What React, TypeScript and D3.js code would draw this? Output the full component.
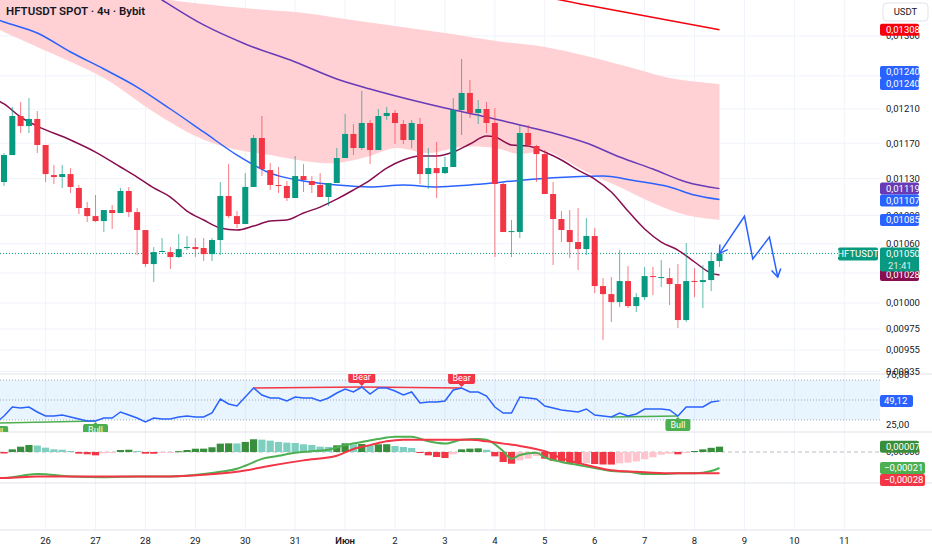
import React from 'react';
import * as d3 from 'd3';

const W = 932;
const H = 550;
const PLOT_R = 880;

// candle i opens at 25 May 04:00 + 4h * i (4h chart)
const START = new Date(2025, 4, 25, 4);

const OPEN = [
  0.011263, 0.011565, 0.012017, 0.011899, 0.011982, 0.011680, 0.011340, 0.011318, 0.011351, 0.011197,
  0.010979, 0.010892, 0.010839, 0.010957, 0.010925, 0.011164, 0.010935, 0.010744, 0.010391, 0.010514,
  0.010514, 0.010463, 0.010556, 0.010566, 0.010556, 0.010493, 0.010639, 0.011109, 0.010892, 0.010808,
  0.011208, 0.011760, 0.011396, 0.011230, 0.011219, 0.011087, 0.011329, 0.011274, 0.011230, 0.011098,
  0.011252, 0.011531, 0.011807, 0.011645, 0.011935, 0.011622, 0.012017, 0.012053, 0.011923, 0.011737,
  0.011923, 0.011351, 0.011418, 0.011362, 0.011430, 0.012088, 0.012292, 0.012053, 0.012100, 0.011935,
  0.011241, 0.010723, 0.010723, 0.011818, 0.011668, 0.011576, 0.011131, 0.010861, 0.010744, 0.010618,
  0.010545, 0.010681, 0.010169, 0.010089, 0.010010, 0.010219, 0.009971, 0.010059, 0.010269, 0.010249,
  0.010249, 0.010189, 0.009835, 0.010219, 0.010209, 0.010229, 0.010422,
];
const HIGH = [
  0.011588, 0.012124, 0.012183, 0.012231, 0.012076, 0.011680, 0.011452, 0.011452, 0.011418, 0.011230,
  0.011043, 0.011120, 0.010957, 0.011011, 0.011197, 0.011208, 0.010979, 0.010744, 0.010566, 0.010660,
  0.010566, 0.010702, 0.010681, 0.010660, 0.010660, 0.010660, 0.011263, 0.011463, 0.010946, 0.011362,
  0.011795, 0.012017, 0.011475, 0.011430, 0.011274, 0.011554, 0.011463, 0.011329, 0.011362, 0.011252,
  0.011645, 0.012041, 0.011923, 0.012316, 0.011970, 0.012100, 0.012124, 0.012088, 0.011970, 0.011970,
  0.011994, 0.011645, 0.011714, 0.011543, 0.012231, 0.012709, 0.012450, 0.012207, 0.012183, 0.012112,
  0.011252, 0.010850, 0.011911, 0.011911, 0.011680, 0.011622, 0.011263, 0.010946, 0.010957, 0.010979,
  0.010871, 0.010765, 0.010249, 0.010259, 0.010535, 0.010371, 0.010099, 0.010361, 0.010361, 0.010432,
  0.010350, 0.010391, 0.010608, 0.010350, 0.010381, 0.010514, 0.010545,
];
const LOW = [
  0.011219, 0.011565, 0.011818, 0.011818, 0.011588, 0.011263, 0.011241, 0.011197, 0.011142, 0.010914,
  0.010829, 0.010829, 0.010723, 0.010755, 0.010925, 0.010882, 0.010483, 0.010361, 0.010209, 0.010514,
  0.010340, 0.010452, 0.010535, 0.010463, 0.010422, 0.010422, 0.010483, 0.010871, 0.010765, 0.010808,
  0.011208, 0.011329, 0.011175, 0.011142, 0.011054, 0.011087, 0.011153, 0.011142, 0.011098, 0.011000,
  0.011252, 0.011531, 0.011565, 0.011622, 0.011463, 0.011622, 0.011970, 0.011691, 0.011691, 0.011645,
  0.011241, 0.011186, 0.011087, 0.011351, 0.011430, 0.011795, 0.011994, 0.011923, 0.011818, 0.010463,
  0.010723, 0.010463, 0.010660, 0.011657, 0.011263, 0.011131, 0.010381, 0.010618, 0.010452, 0.010330,
  0.010483, 0.010099, 0.009643, 0.009816, 0.009961, 0.009952, 0.009912, 0.010030, 0.010079, 0.010159,
  0.009981, 0.009758, 0.009816, 0.010059, 0.009952, 0.010119, 0.010361,
];
const CLOSE = [
  0.011565, 0.012017, 0.011899, 0.011982, 0.011680, 0.011351, 0.011318, 0.011351, 0.011208, 0.010979,
  0.010892, 0.010839, 0.010957, 0.010925, 0.011164, 0.010935, 0.010744, 0.010391, 0.010514, 0.010525,
  0.010463, 0.010545, 0.010566, 0.010545, 0.010493, 0.010639, 0.011109, 0.010892, 0.010808, 0.011208,
  0.011760, 0.011407, 0.011230, 0.011219, 0.011087, 0.011329, 0.011285, 0.011230, 0.011098, 0.011252,
  0.011531, 0.011807, 0.011645, 0.011935, 0.011622, 0.012017, 0.012053, 0.011935, 0.011737, 0.011935,
  0.011351, 0.011418, 0.011362, 0.011430, 0.012088, 0.012292, 0.012053, 0.012100, 0.011935, 0.011241,
  0.010723, 0.010733, 0.011818, 0.011680, 0.011576, 0.011131, 0.010861, 0.010744, 0.010618, 0.010545,
  0.010681, 0.010169, 0.010089, 0.010010, 0.010219, 0.009971, 0.010059, 0.010269, 0.010259, 0.010259,
  0.010189, 0.009835, 0.010219, 0.010209, 0.010229, 0.010422, 0.010500,
];

// overlays, [candle index, price]
const EMA_FAST: [number, number][] = [
  [-1, 0.012219], [0, 0.01216], [2, 0.012005], [4, 0.011899], [8, 0.011737], [11, 0.011599], [14, 0.01143],
  [16, 0.011318], [18, 0.011197], [20, 0.011098], [22, 0.010946], [24, 0.01085], [26, 0.010765], [28, 0.010744],
  [30, 0.010786], [32, 0.010839], [34, 0.01085], [36, 0.010925], [38, 0.010989], [40, 0.011076], [42, 0.011175],
  [44, 0.011285], [46, 0.011418], [48, 0.011509], [50, 0.011554], [52, 0.011554], [54, 0.011599], [56, 0.011691],
  [58, 0.011783], [59, 0.011772], [61, 0.01168], [63, 0.011668], [65, 0.011599], [67, 0.011509], [69, 0.011396],
  [71, 0.011296], [73, 0.011153], [75, 0.010946], [77, 0.010755], [79, 0.010618], [81, 0.010535], [83, 0.010412],
  [85, 0.010299], [86, 0.01028],
];
const EMA_MID: [number, number][] = [
  [-1, 0.013219], [0, 0.01318], [4, 0.013038], [8, 0.012797], [12, 0.012585], [16, 0.012364], [20, 0.0121],
  [24, 0.01183], [28, 0.011565], [32, 0.011362], [36, 0.011274], [40, 0.01123], [44, 0.011208], [48, 0.01123],
  [52, 0.011208], [56, 0.01123], [60, 0.011263], [64, 0.011296], [68, 0.011318], [72, 0.011329], [76, 0.011274],
  [80, 0.011208], [83, 0.01112], [86, 0.01107],
];
const EMA_SLOW: [number, number][] = [
  [-1, 0.014918], [0, 0.014858], [10, 0.014118], [19, 0.013467], [24, 0.013141], [29, 0.012898], [35, 0.012672],
  [40, 0.012462], [44, 0.01234], [49, 0.012207], [53, 0.012112], [58, 0.012005], [62, 0.011911], [66, 0.011818],
  [70, 0.011703], [74, 0.011543], [78, 0.011407], [82, 0.011263], [86, 0.01119],
];
const MA_LONG: [number, number][] = [[50, 0.0138], [55, 0.01372], [70, 0.0134], [86, 0.01308]];
const CLOUD_TOP: [number, number][] = [
  [-1, 0.01386], [0, 0.013843], [10, 0.013654], [20, 0.013467], [30, 0.013349], [36, 0.013297], [41, 0.013219],
  [47, 0.013128], [53, 0.013038], [60, 0.012923], [65, 0.01286], [70, 0.012747], [76, 0.012585], [80, 0.012474],
  [86, 0.0124],
];
const CLOUD_BOTTOM: [number, number][] = [
  [-1, 0.013102], [0, 0.013051], [4, 0.01286], [12, 0.012474], [18, 0.012064], [23, 0.011783], [27, 0.011645],
  [32, 0.011565], [37, 0.011486], [40, 0.011475], [44, 0.011554], [47, 0.011645], [51, 0.011588], [55, 0.011657],
  [59, 0.011645], [62, 0.011576], [65, 0.011611], [67, 0.011531], [70, 0.011374], [74, 0.011208], [78, 0.011033],
  [82, 0.010903], [86, 0.01085],
];
const FORECAST: [number, number][] = [[86, 0.0105], [89, 0.01089], [90, 0.010442], [92, 0.01067], [93, 0.010259]];

// RSI, first value belongs to candle -1
const RSI = [
  27, 34, 43, 42, 43, 38, 34, 34, 35, 33, 31, 29, 29, 32, 32, 38, 35, 32, 28, 32,
  31, 31, 33, 34, 33, 33, 37, 51, 46, 44, 53, 62, 55, 52, 52, 49, 53, 52, 52, 49,
  52, 57, 61, 58, 63, 56, 62, 62, 59, 55, 58, 47, 48, 48, 49, 60, 62, 58, 58, 54,
  43, 37, 37, 53, 52, 51, 44, 42, 40, 39, 38, 41, 35, 34, 33, 37, 34, 36, 41, 41,
  41, 40, 34, 43, 43, 43, 48, 49.12,
];
const BEAR_DIV: [number, number][] = [[30, 43], [43, 55]];
const BULL_DIV: [number, number][] = [[-1, 11], [73, 81]];
const BULL_TAGS = [-1, 11, 81];

// MACD
const MACD_LINE: [number, number][] = [
  [-1, -34e-5], [0, -34e-5], [4, -29e-5], [8, -32e-5], [12, -33e-5], [16, -32e-5], [20, -32e-5], [24, -29e-5],
  [26, -26e-5], [28, -22e-5], [29, -18e-5], [31, -9e-5], [33, -5e-5], [35, -1e-5], [37, 1e-5], [39, 3e-5],
  [41, 9e-5], [43, 13e-5], [45, 17e-5], [47, 20e-5], [49, 20e-5], [51, 14e-5], [53, 11e-5], [55, 16e-5],
  [57, 17e-5], [58, 16e-5], [60, 1e-5], [61, -9e-5], [62, -4e-5], [64, -1e-5], [65, -7e-5], [67, -13e-5],
  [69, -17e-5], [71, -21e-5], [73, -25e-5], [75, -26e-5], [77, -29e-5], [79, -29e-5], [81, -28e-5],
  [83, -28e-5], [85, -25e-5], [86, -21e-5],
];
const SIGNAL_LINE: [number, number][] = [
  [-1, -34e-5], [0, -34e-5], [4, -32e-5], [8, -32e-5], [16, -32e-5], [20, -32e-5], [24, -30e-5], [28, -26e-5],
  [32, -18e-5], [36, -11e-5], [40, -5e-5], [42, 4e-5], [44, 9e-5], [46, 14e-5], [48, 16e-5], [52, 16e-5],
  [56, 16e-5], [58, 14e-5], [60, 11e-5], [62, 8e-5], [65, 1e-5], [67, -8e-5], [70, -17e-5], [73, -24e-5],
  [76, -26e-5], [80, -28e-5], [83, -28e-5], [86, -28e-5],
];
const HIST = [
  -2, 3.5, 7, 9.2, 8.5, 5.7, 3.5, 3, 1.3, -2.2, -3, -4.4, -1.8, -1.3, 2.6, 3, 1.3, -2.2, -2.3, -1.3,
  -1, 1, 2.6, 4.3, 4.4, 6.2, 11, 11.4, 11.2, 13.2, 16.7, 16.2, 14.9, 13.2, 12.3, 11.8, 10.1, 9.2, 7, 6.6,
  8.8, 11.4, 10.1, 10.5, 8.8, 10.1, 10.2, 7.9, 6.6, 5.3, -0.4, -4.4, -6.6, -7.9, -3, 3.5, 4.4, 4.8, 3, -5.7,
  -13.2, -15.4, -11, -8.8, -5.3, -8.8, -11.4, -12.7, -14.5, -15.1, -14.7, -15.8, -16.4, -16.5, -14.9, -14,
  -12.3, -9.6, -7, -3.5, -2.2, -3, -0.4, 1.3, 3.5, 5.5, 7,
].map((v) => v * 1e-5);

const PRICE_TICKS = [0.013, 0.0125, 0.0121, 0.0117, 0.0113, 0.0109, 0.0106, 0.0103, 0.01, 0.00975, 0.00955, 0.00935];
const RSI_TICKS = [75, 25];

const UP = '#089981';
const DOWN = '#f23645';
const FONT = 'Roboto, "DejaVu Sans", sans-serif';

const timeAt = (i: number) => d3.timeHour.offset(START, 4 * i);
const x = d3.scaleTime().domain([timeAt(0), timeAt(86)]).range([4, 719.5]);
const xi = (i: number) => x(timeAt(i));
const yP = d3.scaleLog().domain([0.0121, 0.00955]).range([109, 350]);
const yR = d3.scaleLinear().domain([70, 30]).range([380, 420]);
const yM = d3.scaleLinear().domain([0, -0.00021]).range([452, 468]);

const fmt = (v: number, d = 5) => d3.format(`.${d}f`)(v).replace('.', ',');
const last = (s: [number, number][]) => s[s.length - 1][1];

const priceLine = d3.line<[number, number]>().x((d) => xi(d[0])).y((d) => yP(d[1])).curve(d3.curveMonotoneX);
const cloudLine = d3.line<[number, number]>().x((d) => xi(d[0])).y((d) => yP(d[1])).curve(d3.curveCatmullRom);
const macdLine = d3.line<[number, number]>().x((d) => xi(d[0])).y((d) => yM(d[1])).curve(d3.curveMonotoneX);

// stack axis labels so that they don't overlap
function place(labels: { y: number }[], h = 12) {
  const placed: { y: number }[] = [];
  labels.forEach((l) => {
    let moved = true;
    while (moved) {
      moved = false;
      for (const p of placed) {
        if (Math.abs(l.y - p.y) < h) {
          l.y = l.y <= p.y ? p.y - h : p.y + h;
          moved = true;
        }
      }
    }
    placed.push(l);
  });
  return labels;
}

function Arrowhead({ from, to }: { from: [number, number]; to: [number, number] }) {
  const ang = Math.atan2(from[1] - to[1], from[0] - to[0]);
  const len = 9;
  const a1 = ang + 0.55;
  const a2 = ang - 0.55;
  const p1 = [to[0] + len * Math.cos(a1), to[1] + len * Math.sin(a1)];
  const p2 = [to[0] + len * Math.cos(a2), to[1] + len * Math.sin(a2)];
  return (
    <path
      d={`M${p1[0]},${p1[1]}L${to[0]},${to[1]}L${p2[0]},${p2[1]}`}
      fill="none"
      stroke="#2962ff"
      strokeWidth={1.5}
    />
  );
}

function AxisBox({ y, color, text }: { y: number; color: string; text: string }) {
  const neg = text.startsWith('−');
  return (
    <g>
      <rect x={880} y={y - 6} width={neg ? 45 : 39} height={12} rx={2} fill={color} />
      <text x={neg ? 884 : 886} y={y} dy="0.35em" fill="#fff" fontSize={9.5}>
        {text}
      </text>
    </g>
  );
}

export default function App() {
  const days = d3.timeDay.range(new Date(2025, 4, 26), new Date(2025, 5, 12));
  const cloudPath =
    cloudLine(CLOUD_TOP) + (cloudLine(CLOUD_BOTTOM.slice().reverse()) as string).replace(/^M/, 'L') + 'Z';
  const rsiPts: [number, number][] = RSI.map((v, k) => [xi(k - 1), yR(v)]);
  const rsiAt = (i: number) => RSI[i + 1];

  const mainLabels = place([
    { y: yP(last(MA_LONG)), color: '#f7000d', text: fmt(last(MA_LONG)) },
    { y: yP(last(CLOUD_TOP)), color: '#2962ff', text: fmt(last(CLOUD_TOP)) },
    { y: yP(last(CLOUD_TOP)), color: '#2962ff', text: fmt(last(CLOUD_TOP)) },
    { y: yP(last(EMA_SLOW)), color: '#673ab7', text: fmt(last(EMA_SLOW)) },
    { y: yP(last(EMA_MID)), color: '#2962ff', text: fmt(last(EMA_MID)) },
    { y: yP(last(CLOUD_BOTTOM)), color: '#2962ff', text: fmt(last(CLOUD_BOTTOM)) },
    { y: yP(last(EMA_FAST)), color: '#880e4f', text: fmt(last(EMA_FAST)) },
  ]);
  const macdLabels = place([
    { y: yM(HIST[HIST.length - 1]), color: '#388e3c', text: fmt(HIST[HIST.length - 1]) },
    { y: yM(last(MACD_LINE)), color: '#4caf50', text: fmt(last(MACD_LINE)) },
    { y: yM(last(SIGNAL_LINE)), color: '#f23645', text: fmt(last(SIGNAL_LINE)) },
  ]);

  const lastClose = CLOSE[CLOSE.length - 1];
  const fc = FORECAST.map((d) => [xi(d[0]), yP(d[1])] as [number, number]);

  return (
    <svg
      width={W}
      height={H}
      style={{ position: 'absolute', left: 0, top: 0, background: '#fff', fontFamily: FONT }}
    >
      <defs>
        <clipPath id="main">
          <rect x={0} y={0} width={PLOT_R} height={374} />
        </clipPath>
        <clipPath id="rsi">
          <rect x={0} y={374} width={PLOT_R} height={58} />
        </clipPath>
        <clipPath id="macd">
          <rect x={0} y={432} width={PLOT_R} height={51} />
        </clipPath>
      </defs>

      {/* grid */}
      {days.map((d) => (
        <line key={+d} x1={x(d)} x2={x(d)} y1={0} y2={530} stroke="#f0f3fa" />
      ))}
      {PRICE_TICKS.map((t) => (
        <line key={t} x1={0} x2={PLOT_R} y1={yP(t)} y2={yP(t)} stroke="#f0f3fa" />
      ))}
      {[374, 432, 483, 530].map((y) => (
        <line key={y} x1={0} x2={W} y1={y} y2={y} stroke="#e0e3eb" />
      ))}

      {/* main pane */}
      <g clipPath="url(#main)">
        <path d={cloudPath} fill="#ffcdd2" opacity={0.95} />
        <path d={priceLine(MA_LONG) as string} fill="none" stroke="#f7000d" strokeWidth={1.5} />
        <path d={priceLine(EMA_SLOW) as string} fill="none" stroke="#673ab7" strokeWidth={1.5} />
        <path d={priceLine(EMA_MID) as string} fill="none" stroke="#2962ff" strokeWidth={1.5} />
        <path d={priceLine(EMA_FAST) as string} fill="none" stroke="#880e4f" strokeWidth={1.5} />
        <line
          x1={0}
          x2={838}
          y1={yP(lastClose)}
          y2={yP(lastClose)}
          stroke={UP}
          strokeDasharray="1,2"
        />
        {OPEN.map((o, i) => {
          const c = CLOSE[i];
          const col = c >= o ? UP : DOWN;
          const cx = xi(i);
          const top = yP(Math.max(o, c));
          const h = Math.max(1, Math.abs(yP(o) - yP(c)));
          return (
            <g key={i}>
              <line x1={cx} x2={cx} y1={yP(HIGH[i])} y2={yP(LOW[i])} stroke={col} strokeOpacity={0.65} />
              <rect x={cx - 3} y={top} width={6} height={h} fill={col} />
            </g>
          );
        })}
        <path d={d3.line()(fc) as string} fill="none" stroke="#2962ff" strokeWidth={1.5} />
        <Arrowhead from={fc[fc.length - 2]} to={fc[fc.length - 1]} />
        <Arrowhead from={fc[1]} to={fc[0]} />
      </g>

      {/* RSI pane */}
      <g clipPath="url(#rsi)">
        <rect x={0} y={yR(70)} width={PLOT_R} height={yR(30) - yR(70)} fill="#2196f3" opacity={0.1} />
        {[70, 50, 30].map((v) => (
          <line
            key={v}
            x1={0}
            x2={PLOT_R}
            y1={yR(v)}
            y2={yR(v)}
            stroke="#787b86"
            strokeOpacity={0.6}
            strokeDasharray="1,2"
          />
        ))}
        {BULL_DIV.map(([a, b]) => (
          <line key={a} x1={xi(a)} x2={xi(b)} y1={yR(rsiAt(a))} y2={yR(rsiAt(b))} stroke="#4caf50" strokeWidth={1.5} />
        ))}
        {BEAR_DIV.map(([a, b]) => (
          <line key={a} x1={xi(a)} x2={xi(b)} y1={yR(rsiAt(a))} y2={yR(rsiAt(b))} stroke={DOWN} strokeWidth={1.5} />
        ))}
        <path d={d3.line()(rsiPts) as string} fill="none" stroke="#2962ff" strokeWidth={1.5} />
        {BEAR_DIV.map(([, b]) => {
          const cx = xi(b);
          const cy = yR(rsiAt(b));
          return (
            <g key={b}>
              <path d={`M${cx - 3},${cy - 4}L${cx + 3},${cy - 4}L${cx},${cy - 1}Z`} fill={DOWN} />
              <rect x={cx - 13.5} y={cy - 16} width={27} height={12} rx={2} fill={DOWN} />
              <text x={cx} y={cy - 10} dy="0.35em" textAnchor="middle" fill="#fff" fontSize={9}>
                Bear
              </text>
            </g>
          );
        })}
        {BULL_TAGS.map((b) => {
          const cx = xi(b);
          const cy = yR(rsiAt(b));
          return (
            <g key={b}>
              <path d={`M${cx - 3},${cy + 4}L${cx + 3},${cy + 4}L${cx},${cy + 1}Z`} fill="#4caf50" />
              <rect x={cx - 12.5} y={cy + 3} width={25} height={12} rx={2} fill="#4caf50" />
              <text x={cx} y={cy + 9} dy="0.35em" textAnchor="middle" fill="#fff" fontSize={9}>
                Bull
              </text>
            </g>
          );
        })}
      </g>

      {/* MACD pane */}
      <g clipPath="url(#macd)">
        <line
          x1={0}
          x2={PLOT_R}
          y1={yM(0)}
          y2={yM(0)}
          stroke="#787b86"
          strokeOpacity={0.5}
          strokeDasharray="4,3"
        />
        {HIST.map((v, i) => {
          const prev = i > 0 ? HIST[i - 1] : 0;
          const col = v >= 0 ? (v >= prev ? '#388e3c' : '#7fcfc0') : v < prev ? DOWN : '#ffc4cd';
          const y0 = yM(0);
          const y1 = yM(v);
          return (
            <rect
              key={i}
              x={xi(i) - 3.6}
              y={Math.min(y0, y1)}
              width={7.2}
              height={Math.max(1, Math.abs(y1 - y0))}
              fill={col}
            />
          );
        })}
        <path d={macdLine(MACD_LINE) as string} fill="none" stroke="#4caf50" strokeWidth={2} />
        <path d={macdLine(SIGNAL_LINE) as string} fill="none" stroke={DOWN} strokeWidth={2} />
      </g>

      {/* title */}
      <text x={6} y={15} fontSize={11.5} fontWeight={600} fill="#131722">
        HFTUSDT SPOT · 4ч · Bybit
      </text>

      {/* price scale */}
      <rect x={883} y={3} width={45} height={18} rx={4} fill="#fff" stroke="#e0e3eb" />
      <text x={905.5} y={12} dy="0.35em" textAnchor="middle" fontSize={9.5} fill="#131722">
        USDT
      </text>
      {PRICE_TICKS.map((t) => (
        <text key={t} x={886} y={yP(t)} dy="0.35em" fontSize={9.5} fill="#131722">
          {fmt(t)}
        </text>
      ))}
      {RSI_TICKS.map((t) => (
        <text key={t} x={886} y={yR(t)} dy="0.35em" fontSize={9.5} fill="#131722">
          {fmt(t, 2)}
        </text>
      ))}
      <text x={886} y={yM(0)} dy="0.35em" fontSize={9.5} fill="#131722">
        {fmt(0)}
      </text>

      {mainLabels.map((l: any, k) => (
        <AxisBox key={k} y={l.y} color={l.color} text={l.text} />
      ))}
      {macdLabels.map((l: any, k) => (
        <AxisBox key={k} y={l.y} color={l.color} text={l.text} />
      ))}
      <g>
        <rect x={880} y={yR(RSI[RSI.length - 1]) - 6} width={33} height={12} rx={2} fill="#2962ff" />
        <text x={884} y={yR(RSI[RSI.length - 1])} dy="0.35em" fontSize={9.5} fill="#fff">
          {fmt(RSI[RSI.length - 1], 2)}
        </text>
      </g>
      <g>
        <rect x={838} y={yP(lastClose) - 6} width={40} height={13} rx={2} fill={UP} />
        <text x={858} y={yP(lastClose) + 0.5} dy="0.35em" textAnchor="middle" fontSize={9.5} fill="#fff">
          HFTUSDT
        </text>
        <rect x={880} y={yP(lastClose) - 6} width={39} height={24} rx={2} fill={UP} />
        <text x={886} y={yP(lastClose)} dy="0.35em" fontSize={9.5} fill="#fff">
          {fmt(lastClose)}
        </text>
        <text x={888} y={yP(lastClose) + 12} dy="0.35em" fontSize={9.5} fill="#fff" opacity={0.85}>
          21:41
        </text>
      </g>

      {/* time scale */}
      {days.map((d) => (
        <text
          key={+d}
          x={x(d)}
          y={541}
          dy="0.35em"
          textAnchor="middle"
          fontSize={9.5}
          fill="#131722"
          fontWeight={d.getDate() === 1 ? 600 : 400}
        >
          {d.getDate() === 1 ? 'Июн' : d.getDate()}
        </text>
      ))}
    </svg>
  );
}
